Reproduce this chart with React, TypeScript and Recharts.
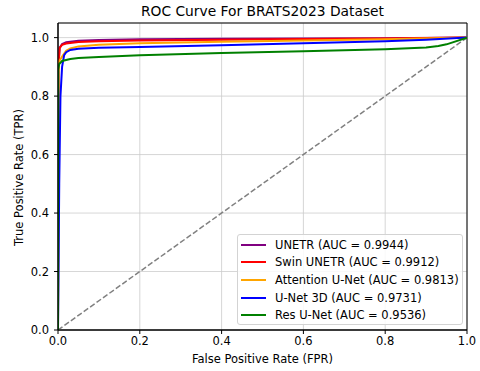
import React from 'react';
import { LineChart, Line, XAxis, YAxis, CartesianGrid, Legend, ReferenceArea, Label } from 'recharts';

const unetrFpr = [0, 0.001, 0.004, 0.01, 0.02, 0.05, 0.1, 0.2, 0.4, 0.6, 0.8, 1];
const unetrTpr = [0, 0.9, 0.965, 0.978, 0.984, 0.989, 0.992, 0.994, 0.996, 0.997, 0.998, 1];
const swinFpr = [0, 0.001, 0.004, 0.01, 0.02, 0.05, 0.1, 0.2, 0.4, 0.6, 0.8, 1];
const swinTpr = [0, 0.9, 0.965, 0.975, 0.98, 0.985, 0.988, 0.99, 0.993, 0.995, 0.997, 1];
const attnFpr = [0, 0.001, 0.003, 0.01, 0.02, 0.03, 0.05, 0.1, 0.2, 0.4, 0.6, 0.8, 1];
const attnTpr = [0, 0.88, 0.92, 0.935, 0.955, 0.963, 0.97, 0.976, 0.981, 0.986, 0.99, 0.994, 1];
const unet3dFpr = [0, 0.003, 0.006, 0.01, 0.015, 0.02, 0.03, 0.05, 0.1, 0.2, 0.4, 0.6, 0.8, 0.9, 1];
const unet3dTpr = [0, 0.5, 0.8, 0.9, 0.94, 0.95, 0.958, 0.962, 0.965, 0.968, 0.974, 0.981, 0.988, 0.993, 1];
const resFpr = [0, 0.0005, 0.003, 0.01, 0.03, 0.05, 0.1, 0.2, 0.4, 0.6, 0.8, 0.9, 0.93, 0.95, 1];
const resTpr = [0, 0.89, 0.91, 0.92, 0.927, 0.93, 0.934, 0.94, 0.947, 0.953, 0.96, 0.966, 0.971, 0.977, 1];
const diagFpr = [0, 1];
const diagTpr = [0, 1];

const seriesNames = [
  'UNETR (AUC = 0.9944)',
  'Swin UNETR (AUC = 0.9912)',
  'Attention U-Net (AUC = 0.9813)',
  'U-Net 3D (AUC = 0.9731)',
  'Res U-Net (AUC = 0.9536)',
];
const seriesColors = ['purple', 'red', 'orange', 'blue', 'green'];
const xTicks = [0, 0.2, 0.4, 0.6, 0.8, 1.0];
const yTicks = [0, 0.2, 0.4, 0.6, 0.8, 1.0];

const zip = (xs: number[], ys: number[]) => xs.map((x, i) => ({ x, y: ys[i] }));
const seriesData = [
  zip(unetrFpr, unetrTpr),
  zip(swinFpr, swinTpr),
  zip(attnFpr, attnTpr),
  zip(unet3dFpr, unet3dTpr),
  zip(resFpr, resTpr),
];

const FONT = '"DejaVu Sans", sans-serif';
const FS = 11.5;

const LegendBox = () => (
  <div
    style={{
      border: '1px solid #d3d3d3',
      borderRadius: 3,
      background: 'rgba(255,255,255,0.85)',
      boxSizing: 'border-box',
      width: 226,
      height: 91,
      paddingTop: 1,
      fontFamily: FONT,
      fontSize: FS,
      color: '#000',
    }}
  >
    {seriesNames.map((n, i) => (
      <div key={n} style={{ display: 'flex', alignItems: 'center', height: 17.6, paddingLeft: 3 }}>
        <svg width={26} height={6} style={{ marginRight: 8, flexShrink: 0 }}>
          <line x1={0} y1={3} x2={25} y2={3} stroke={seriesColors[i]} strokeWidth={2} />
        </svg>
        <span style={{ whiteSpace: 'nowrap' }}>{n}</span>
      </div>
    ))}
  </div>
);

export default function App() {
  return (
    <div style={{ position: 'absolute', left: 0, top: 0, width: 480, height: 371, background: '#fff' }}>
      <div
        style={{
          position: 'absolute',
          left: 58,
          width: 409,
          top: 3,
          textAlign: 'center',
          fontFamily: FONT,
          fontSize: 13.8,
          lineHeight: '17px',
          color: '#000',
        }}
      >
        ROC Curve For BRATS2023 Dataset
      </div>
      <LineChart
        width={480}
        height={371}
        margin={{ top: 23, right: 13, left: 0, bottom: 0 }}
        style={{ position: 'absolute', left: 0, top: 0 }}
      >
        <CartesianGrid stroke="#cccccc" strokeWidth={0.8} />
        <XAxis
          type="number"
          dataKey="x"
          domain={[0, 1]}
          ticks={xTicks}
          tickFormatter={(v: number) => v.toFixed(1)}
          height={41}
          allowDataOverflow
          stroke="#000"
          tickSize={4}
          tickMargin={3}
          tick={{ fill: '#000', fontFamily: FONT, fontSize: FS }}
        >
          <Label
            content={() => (
              <text x={262.5} y={363} textAnchor="middle" fontFamily={FONT} fontSize={FS} fill="#000">
                False Positive Rate (FPR)
              </text>
            )}
          />
        </XAxis>
        <YAxis
          type="number"
          dataKey="y"
          domain={[0, 1.05]}
          ticks={yTicks}
          tickFormatter={(v: number) => v.toFixed(1)}
          width={58}
          allowDataOverflow
          stroke="#000"
          tickSize={4}
          tickMargin={5}
          tick={{ fill: '#000', fontFamily: FONT, fontSize: FS }}
        >
          <Label
            content={() => (
              <text
                x={23}
                y={177.5}
                textAnchor="middle"
                fontFamily={FONT}
                fontSize={FS}
                fill="#000"
                transform="rotate(-90 23 177.5)"
              >
                True Positive Rate (TPR)
              </text>
            )}
          />
        </YAxis>
        <Line
          data={zip(diagFpr, diagTpr)}
          dataKey="y"
          stroke="#808080"
          strokeWidth={1.5}
          strokeDasharray="5.5 2.4"
          dot={false}
          isAnimationActive={false}
          legendType="none"
        />
        {seriesData.map((d, i) => (
          <Line
            key={seriesNames[i]}
            data={d}
            dataKey="y"
            name={seriesNames[i]}
            stroke={seriesColors[i]}
            strokeWidth={2}
            dot={false}
            type="linear"
            isAnimationActive={false}
          />
        ))}
        <ReferenceArea x1={0} x2={1} y1={0} y2={1.05} fill="none" stroke="#000" strokeWidth={1} ifOverflow="visible" />
        <Legend
          layout="vertical"
          align="center"
          verticalAlign="middle"
          content={() => <LegendBox />}
          wrapperStyle={{ left: 237, top: 234, width: 226, height: 91 }}
        />
      </LineChart>
    </div>
  );
}
